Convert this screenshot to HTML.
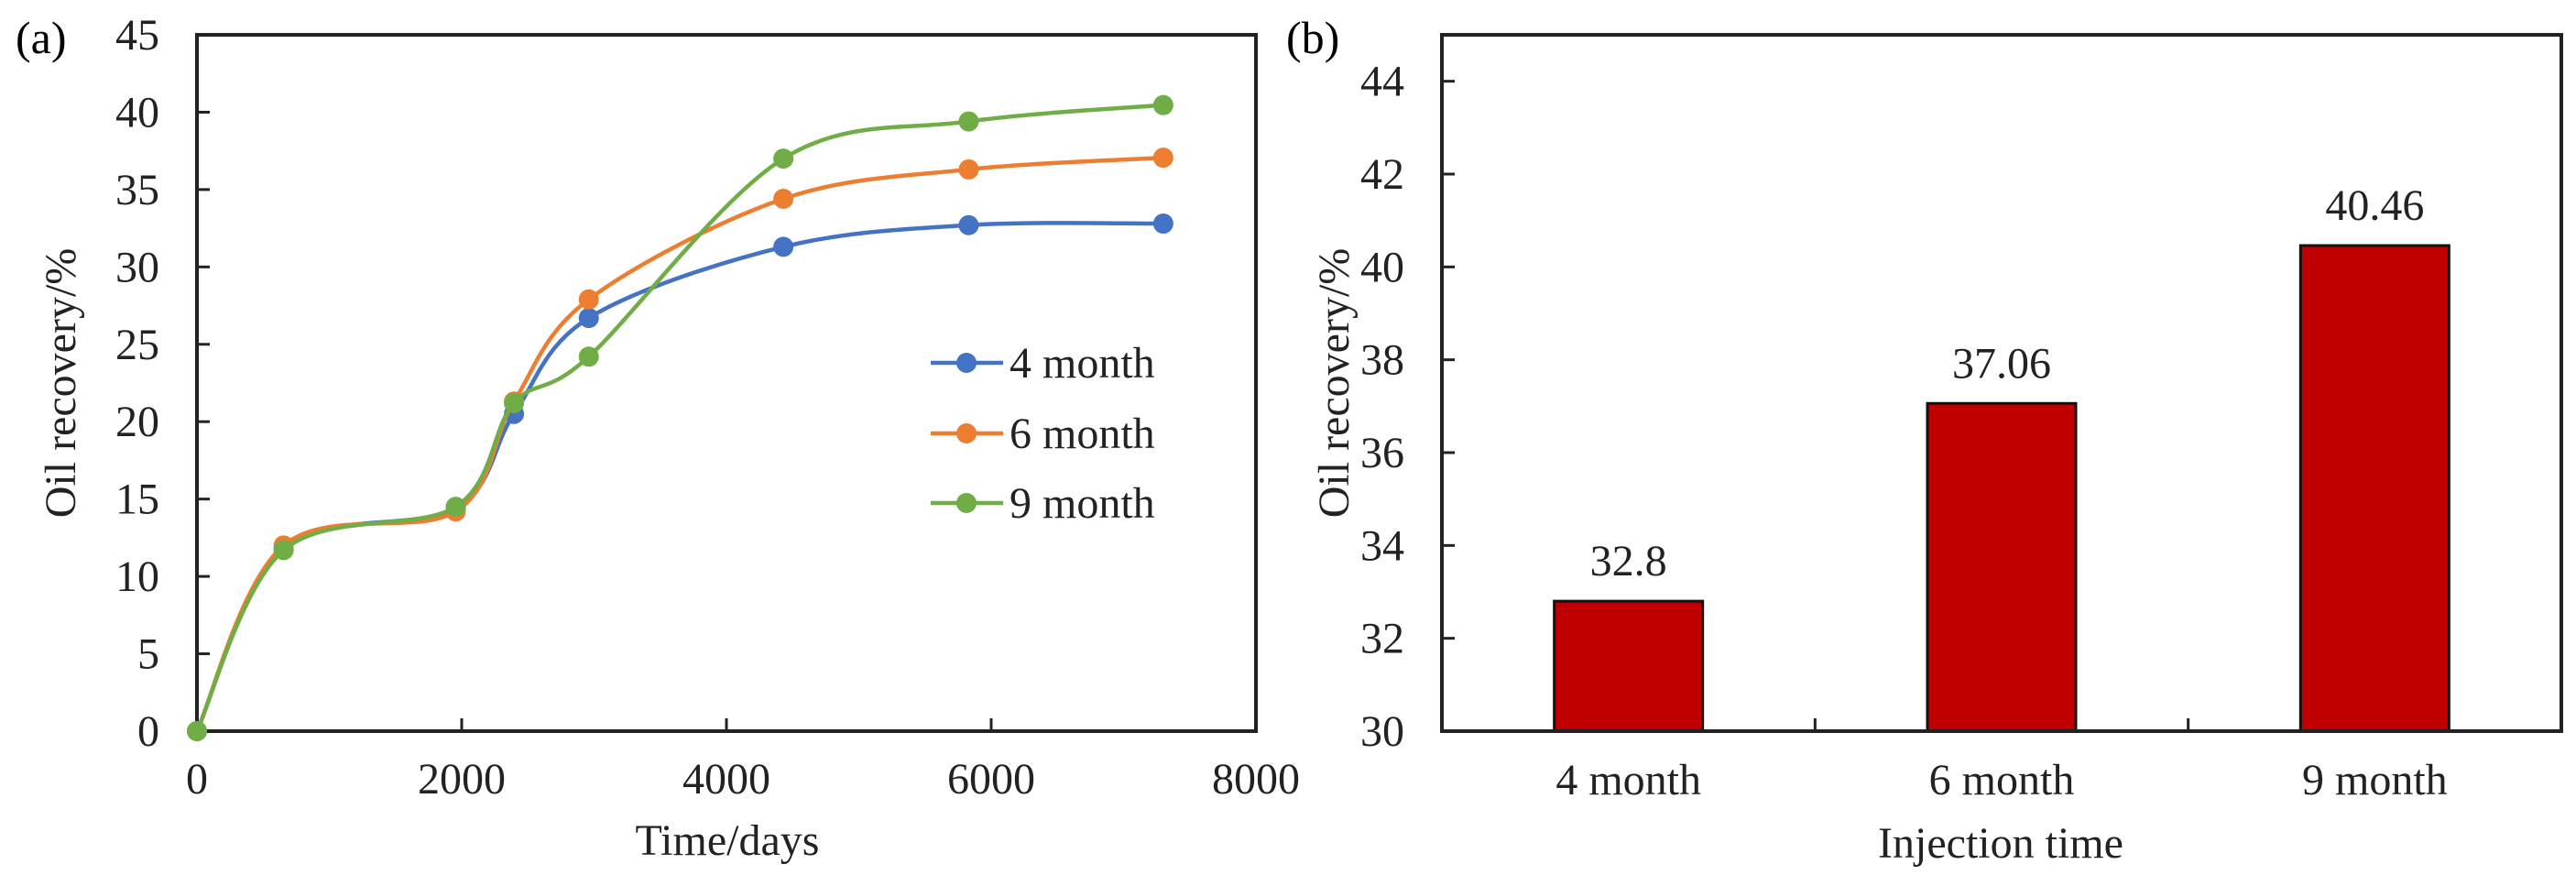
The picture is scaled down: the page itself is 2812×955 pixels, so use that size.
<!DOCTYPE html>
<html><head><meta charset="utf-8"><style>
html,body{margin:0;padding:0;background:#fff;}
svg{display:block;font-family:"Liberation Serif",serif;}
</style></head><body>
<svg id="fig" width="2812" height="955" viewBox="0 0 2812 955" xmlns="http://www.w3.org/2000/svg">
<g id="chartA"></g>
<g id="chartB"></g>
</svg>
<script>
const lineDays = [0, 655, 1955, 2395, 2960, 4430, 5830, 7300];
const series4 = [0, 11.8, 14.4, 20.5, 26.7, 31.3, 32.7, 32.8];
const series6 = [0, 12.0, 14.2, 21.3, 27.9, 34.4, 36.3, 37.06];
const series9 = [0, 11.7, 14.5, 21.2, 24.2, 37.0, 39.4, 40.46];
const seriesNames = ["4 month", "6 month", "9 month"];
const xTicksA = [0, 2000, 4000, 6000, 8000];
const yTicksA = [0, 5, 10, 15, 20, 25, 30, 35, 40, 45];
const barCats = ["4 month", "6 month", "9 month"];
const barVals = [32.8, 37.06, 40.46];
const barLabels = ["32.8", "37.06", "40.46"];
const yTicksB = [30, 32, 34, 36, 38, 40, 42, 44];

const NS = "http://www.w3.org/2000/svg";
function mk(parent, tag, attrs, text){
  const e = document.createElementNS(NS, tag);
  for (const k in attrs) e.setAttribute(k, attrs[k]);
  if (text !== undefined) e.textContent = text;
  parent.appendChild(e);
  return e;
}

// ---------- Chart A ----------
const A = document.getElementById('chartA');
const aL = 215, aR = 1371, aT = 38, aB = 798;
const xA = d => aL + (d - 0) / 8000 * (aR - aL);
const yA = v => aB - v / 45 * (aB - aT);

let t;
t = mk(A, 'text', {x: 17, y: 58, 'font-size': 50});
t.textContent = '(a)';



yTicksA.forEach(v => {
  const tk = mk(A, 'line', {x1: aL, x2: aL + 14, y1: yA(v), y2: yA(v), stroke: '#222', 'stroke-width': 3});
  
  
  const lb = mk(A, 'text', {x: 174, y: yA(v) + 16, 'font-size': 48, 'text-anchor': 'end', fill: '#222'}, String(v));
  
  
});
xTicksA.forEach(v => {
  const tk = mk(A, 'line', {x1: xA(v), x2: xA(v), y1: aB, y2: aB - 14, stroke: '#222', 'stroke-width': 3});
  
  
  const lb = mk(A, 'text', {x: xA(v), y: 866, 'font-size': 48, 'text-anchor': 'middle', fill: '#222'}, String(v));
  
  
});
const frameA = mk(A, 'rect', {x: aL, y: aT, width: aR - aL, height: aB - aT, fill: 'none', stroke: '#222', 'stroke-width': 4});



t = mk(A, 'text', {x: 794, y: 933, 'font-size': 48, 'text-anchor': 'middle', fill: '#222'}, 'Time/days');


t = mk(A, 'text', {x: 0, y: 0, 'font-size': 48, 'text-anchor': 'middle', fill: '#222', transform: 'translate(82,418) rotate(-90)'}, 'Oil recovery/%');



function smoothPath(pts){
  let d = `M${pts[0][0]},${pts[0][1]}`;
  for (let i = 0; i < pts.length - 1; i++){
    const p0 = pts[Math.max(i - 1, 0)], p1 = pts[i], p2 = pts[i + 1], p3 = pts[Math.min(i + 2, pts.length - 1)];
    const k = 1/6;
    const c1 = [p1[0] + (p2[0] - p0[0]) * k, p1[1] + (p2[1] - p0[1]) * k];
    const c2 = [p2[0] - (p3[0] - p1[0]) * k, p2[1] - (p3[1] - p1[1]) * k];
    d += ` C${c1[0]},${c1[1]} ${c2[0]},${c2[1]} ${p2[0]},${p2[1]}`;
  }
  return d;
}
const colors = ['#4472C4', '#ED7D31', '#70AD47'];
const allSeries = [series4, series6, series9];
allSeries.forEach((s, si) => {
  const g = mk(A, 'g', {});
  
  
  const pts = s.map((v, i) => [xA(lineDays[i]), yA(v)]);
  const p = mk(g, 'path', {d: smoothPath(pts), fill: 'none', stroke: colors[si], 'stroke-width': 4.5});
  
  
  pts.forEach(pt => {
    const c = mk(g, 'circle', {cx: pt[0], cy: pt[1], r: 11, fill: colors[si]});
    
    
  });
});
// legend
const legY = [396, 473, 549];
seriesNames.forEach((n, i) => {
  const g = mk(A, 'g', {});
  
  
  mk(g, 'line', {x1: 1016, x2: 1095, y1: legY[i], y2: legY[i], stroke: colors[i], 'stroke-width': 4.5});
  mk(g, 'circle', {cx: 1055, cy: legY[i], r: 11, fill: colors[i]});
  mk(g, 'text', {x: 1102, y: legY[i] + 16, 'font-size': 48, fill: '#222'}, n);
});

// ---------- Chart B ----------
const B = document.getElementById('chartB');
const bL = 1574, bR = 2796, bT = 38, bB = 798;
const yB = v => bB - (v - 30) / 15 * (bB - bT);
const catW = (bR - bL) / barCats.length;
const xB = i => bL + catW * (i + 0.5);

t = mk(B, 'text', {x: 1404, y: 58, 'font-size': 50});
t.textContent = '(b)';



yTicksB.forEach(v => {
  const tk = mk(B, 'line', {x1: bL, x2: bL + 14, y1: yB(v), y2: yB(v), stroke: '#222', 'stroke-width': 3});
  
  
  const lb = mk(B, 'text', {x: 1533, y: yB(v) + 16, 'font-size': 48, 'text-anchor': 'end', fill: '#222'}, String(v));
  
  
});
for (let i = 1; i < barCats.length; i++){
  const tk = mk(B, 'line', {x1: bL + catW * i, x2: bL + catW * i, y1: bB, y2: bB - 14, stroke: '#222', 'stroke-width': 3});
  
  
}
barVals.forEach((v, i) => {
  const bw = 162;
  const r = mk(B, 'rect', {x: xB(i) - bw / 2, y: yB(v), width: bw, height: bB - yB(v), fill: '#C00000', stroke: '#111', 'stroke-width': 3});
  
  
  const vl = mk(B, 'text', {x: xB(i), y: yB(v) - 28, 'font-size': 48, 'text-anchor': 'middle', fill: '#222'}, barLabels[i]);
  
  
  const cl = mk(B, 'text', {x: xB(i), y: 867, 'font-size': 48, 'text-anchor': 'middle', fill: '#222'}, barCats[i]);
  
  
});
const frameB = mk(B, 'rect', {x: bL, y: bT, width: bR - bL, height: bB - bT, fill: 'none', stroke: '#222', 'stroke-width': 4});



t = mk(B, 'text', {x: 2184, y: 936, 'font-size': 48, 'text-anchor': 'middle', fill: '#222'}, 'Injection time');


t = mk(B, 'text', {x: 0, y: 0, 'font-size': 48, 'text-anchor': 'middle', fill: '#222', transform: 'translate(1472,418) rotate(-90)'}, 'Oil recovery/%');


</script>
</body></html>
